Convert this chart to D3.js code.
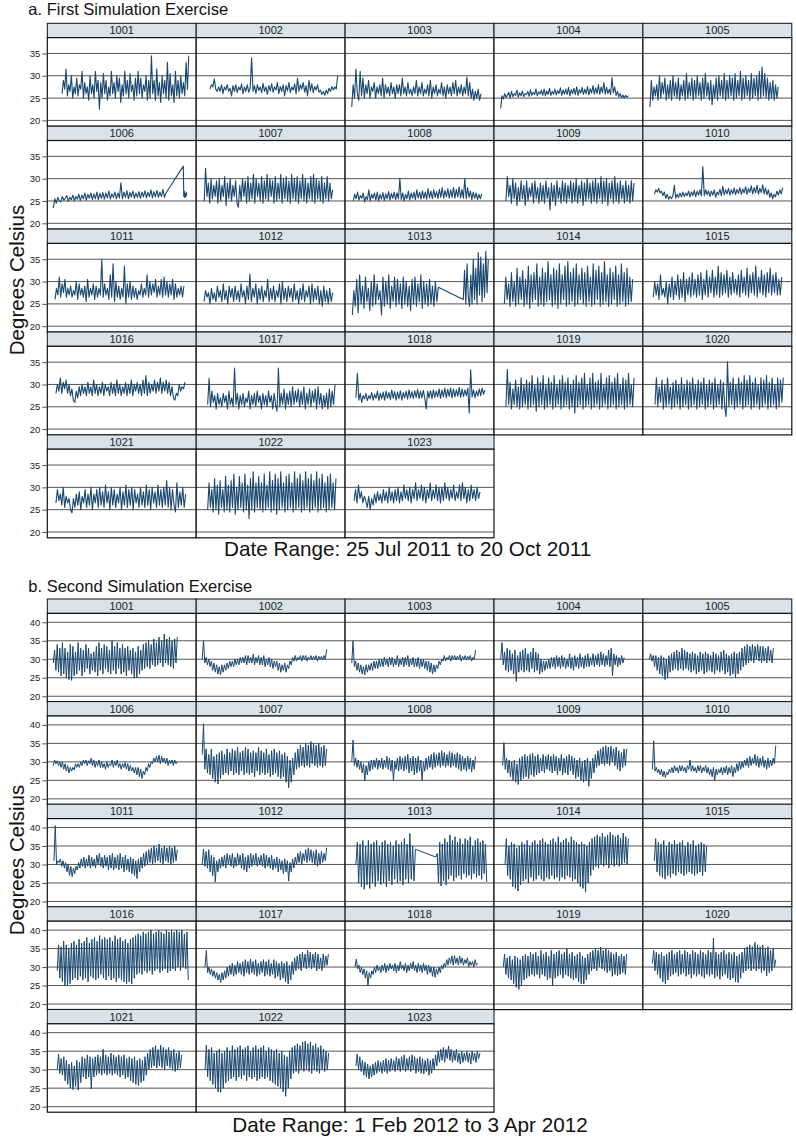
<!DOCTYPE html>
<html><head><meta charset="utf-8">
<script src="https://cdn.jsdelivr.net/npm/d3@7"></script>
<style>body{margin:0;background:#fff}svg{display:block}text{font-family:"Liberation Sans",Arial,sans-serif}</style>
</head><body><svg id="c" width="796" height="1141"></svg>
<script>
const facetIds=["1001","1002","1003","1004","1005","1006","1007","1008","1009","1010","1011","1012","1013","1014","1015","1016","1017","1018","1019","1020","1021","1022","1023"];
const yTicksA=[20,25,30,35];
const yTicksB=[20,25,30,35,40];
const titles=["a. First Simulation Exercise","b. Second Simulation Exercise"];
const dateLabels=["Date Range: 25 Jul 2011 to 20 Oct 2011","Date Range: 1 Feb 2012 to 3 Apr 2012"];
const yLabel="Degrees Celsius";

// time spans (days from first date) of each recorded segment
const spanA=[[[5.6,86.7]],[[5,86.7]],[[0.4,83.1]],[[0.4,82.1]],[[0.7,82.8]],[[0,72.1],[83.2,85.4]],[[1.3,83.5]],[[1.4,83.6]],[[3.8,85.8]],[[3.5,85.6]],[[1.1,83.6]],[[1.2,83.5]],[[0.8,55.8],[71.8,87.8]],[[2.8,84.9]],[[2.8,85]],[[1.7,84.3]],[[3.5,85]],[[3.1,85.7]],[[3.8,85.8]],[[3.9,86]],[[1.7,84.7]],[[3.5,85.6]],[[1.9,82.5]]];
const spanB=[[[0,56.7]],[[0,56.9]],[[0.3,56.9]],[[0.3,56.8]],[[0.2,56.9]],[[0,56.7]],[[0,56.9]],[[0.3,56.9]],[[1.2,57.9]],[[1.6,58]],[[0.3,56.7]],[[0,56.9]],[[2.2,29.4],[38.8,62]],[[2.3,58.7]],[[2.5,26.4]],[[1.8,61.7]],[[1.3,57.7]],[[1.8,57.9]],[[1.5,57.9]],[[1.6,58]],[[1.8,58.7]],[[1.3,57.8]],[[2.2,58.9]]];

// First exercise: temperature readings (°C)
const a1001=[[26,29,27,31.5,25.5,28,26.5,30,25,27.5,26,29.5,25.5,28,27,31,25,28.5,26,27.5,24.5,30,26,28,25,31,26.5,29,22.5,28.5,25,30.5,26,29,24.5,27.5,25.5,31,26,28.5,25,30,26.5,29.5,24,28,25.5,31,26,29,25,30.5,26.5,28,24.5,29.5,25.5,31,26,29.5,25,28,26.5,30,24.5,29,25,34.5,26,29,24.5,31.5,25.5,28.5,24,30,26,29,25,33,24.5,30.5,25.5,28,24,31,25.5,29,25,30,26,28.5,25.5,33,27,34.5]];
const a1002=[[27,28,27.5,29.3,27,26.5,27.5,26.5,28,26,27.5,26.8,28,26.5,27.2,25.5,27.8,26.5,28,26.2,27.5,26.8,28.2,26,27.5,26.5,28,26.3,27.2,34,26.5,27.8,26,28,26.7,27.5,26.2,28.3,26.5,27.5,25.8,27.8,26.6,28.2,26.3,27.5,26.8,28.5,26,27.6,26.5,28,25.5,27.8,26.6,28.5,26.2,27.5,26.8,28.2,26,29.5,26.5,28,27,28.5,26.3,27.8,25.5,29,26.6,28.2,26.2,27.6,26.8,28,26.3,26.8,25.8,26.5,25.6,26.8,26,27.2,26.5,27.6,26.8,27.5,27,30]];
const a1003=[[23,28,25,31.5,26,24.5,31,25.5,29.5,25,28,26,29,25,27.5,26.5,28.5,25,27.5,26,28,25.5,29.5,25,28,26,27.5,25.5,28.5,26,27.5,25,28,26,28,25.5,29.5,26,27.5,25.5,28.5,26,27,25.5,27.5,26,29,25.5,27.5,26,28.5,25.5,27,26,28,25.5,29,25,27.5,26,28,25.5,27,26,28.5,25.5,27.5,25,28,26,27.5,25.5,28.5,26,29,25.5,27.5,26,28,25.5,27.5,26,29.7,25.5,28.5,25,27,24.5,26.5,25,27,24.5,26]];
const a1004=[[22.7,25.5,24.8,26,25.2,25.6,26.3,25,26.5,25.3,26,25.6,26.8,25.2,26.2,25.5,26.6,25.3,26,25.8,26.5,25.4,26.8,25.6,26.3,25.8,27,25.5,26.4,25.9,26.8,25.6,27,25.5,26.6,25.8,27.2,25.6,26.5,25.9,27,25.7,26.7,26,27.3,25.6,26.8,25.9,27,25.8,27.4,25.5,26.9,26,27.2,25.8,27.5,25.6,26.9,26.1,27.4,25.8,27,26,27.6,25.7,27.1,26.1,27.8,25.9,27.3,26,28,25.8,27.5,26.2,28.5,25.9,27.4,26,27,25.8,29.6,26.2,27.5,25.6,26.5,25.3,26,25.1,25.7,25,25.6,25.2,25.5]];
const a1005=[[23,29,24.5,27.5,25.5,28,24.5,30,25,28.5,26,29.5,24.5,28,25,29,24.5,30,25.5,28.5,25,29.5,24.5,28,25.5,29,24.5,30.5,25,28.5,25.5,29.5,24.5,29,25,30,25.5,28.5,24.5,29.5,25,30.5,25.5,28.5,24.5,29,23.5,28,25,29.5,24.5,30,25.5,29,25,30.5,24.5,29,25,30,25.5,29.5,24.5,30.5,25,29,25.5,31,24.5,29.5,25,30,25.5,29,24.5,30.5,25,29.5,25.5,30,24.5,31,25,32,25.5,30.5,25,29.5,24.5,28.5,25,29,24.5,28,25,27.5]];
const a1006=[[23.4,25.5,24.5,25.8,25,24.8,26,25.2,25.6,26.2,24.9,25.8,25.3,26.3,25,26,25.4,26.5,25.1,26.3,25.5,26.8,25.2,26.5,25.6,26.8,25.3,26.6,25.5,27,25.3,26.7,25.6,26.9,25.4,26.8,25.7,27.2,25.4,26.6,25.8,27,25.5,26.8,25.7,29.1,25.5,27,25.8,27.3,25.5,26.9,25.9,27.2,25.6,26.8,25.8,27.1,25.6,27,25.9,27.3,25.7,27,26,27.5,25.7,27.1,25.9,27.4,25.8,27,26,27.6,25.8,26.8],[32.8,26,27.2,25.8,26.6,25.9,27,26.2]];
const a1007=[[25,32.3,26,29,24.5,30,25.5,28.5,26,29.5,24.5,30,25,28.5,26,30.5,24,29,25.5,30,25,28.5,26,29.5,24.5,23.6,28.5,25,30,26,29.5,24.5,30.5,25,29,25.5,31,24.5,30,26,29,25,30.5,24.5,29.5,25.5,31,25,30,26,29.5,24.5,30.5,25,29,25.5,31,24.5,30,25.5,30.5,25,29.5,24.5,31,25.5,30,25,30.5,24.5,29.5,25.5,31,25,30,24.5,29,25.5,30.5,25,31,24.5,30,25.5,29.5,25,30.5,24.5,29,25.5,30.5,25,29,25.5,27.5]];
const a1008=[[25,26.5,25.5,27,25.2,26.2,25.6,26.8,24.8,26,25.3,27.5,25,26.5,25.6,26.8,25.2,27,25,26.5,25.4,26.9,25.1,26.6,25.5,27.1,25.2,26.7,25.6,27,25.3,26.8,25.5,30,25.3,26.8,25,26.5,25.5,27.2,25.2,26.8,25.6,27,25.3,27.5,25.7,27,25.4,27.3,25.6,27,25.4,27.8,25.7,27.2,25.5,27.5,25.8,27.1,25.5,27.6,25.8,28,25.6,27.4,25.9,27.8,25.6,27.5,25.8,28,25.6,27.6,25.9,28.2,25.7,27.6,25.6,30,25.5,28,25.8,27.2,25.3,27,25.6,26.8,25.3,26.5,25.5,26.6]];
const a1009=[[25,30.5,26,28.5,24.5,30,25.5,29,24,28,25,29.5,25.5,28.5,24,29.5,25,28,26,29,24.5,29.5,25.5,28,24.5,29,25,28.5,24.5,29.5,25.5,28,23,29,25,28.5,24,29.5,25.5,28,24.5,29.5,25,29,24.5,28.5,25.5,29.5,24.5,29,25,30,24.5,28.5,25.5,29.5,24,29,25,30,25.5,29,24.5,29.5,25,30,24.5,29,25.5,30.5,24.5,29.5,25,30,24,29,25.5,29.5,24.5,30.5,25,29,24.5,29.5,25.5,28.5,24.5,29.5,25,28.5,24.5,29.5,25,29]];
const a1010=[[26.5,27.5,27,27.8,26.8,27.2,26.2,27,25.6,26.5,25.4,26,25.5,26.2,28.5,25.6,26.5,25.8,26.8,25.9,27,26,26.8,26.2,27.2,25.9,27,26.2,27.4,26,27.2,26.3,27.5,26.1,32.7,26.2,27.5,26.4,27.3,26,27.2,26.3,27.5,25.8,27,26.4,27.6,26.2,28.3,26.4,27.5,26.6,27.8,26.3,27.5,26.6,27.9,26.4,27.6,26.7,28,26.5,27.7,26.8,28.2,26.5,27.8,26.9,28.4,26.6,28,26.8,28.5,26.5,27.8,26.9,28.6,26.6,27.9,26.4,27.5,25.8,26.8,25.5,26.5,25.9,27.2,26.3,27.5,26.6,28]];
const a1011=[[26,28.5,27,31,26.5,29.5,27.5,30.5,26.5,28.5,27,29,26.5,28,27,30,26,29.5,27,28.5,26.5,29,25.5,30.5,26.5,28.5,27,29.5,26,29,26.5,28.5,27,35,26.5,29.5,27,28.5,26,31.5,26.5,34,25.5,30,26.5,29,26,28.5,26.5,33.5,25,29.5,26.5,30,26,29,26.5,28.5,26,28,27,29.5,26.5,28.5,27,31.5,26.5,30,27,29.5,27.5,30.5,26.5,29,27,30.5,26.5,31,27,30,26.5,29.5,27,30.5,26,29.5,26.5,28.5,27,29,26.5,29]];
const a1012=[[25.5,28,26.5,27.5,25,28.5,26,27.5,25.5,29,26.5,28,25.5,29.5,26,28,25,29,26.5,28.5,25.5,29,26,28,25.5,29.5,26.5,28,25,29,26,31.7,25.5,28.5,26.5,29.5,25,28.5,26,29,25.5,28,26.5,30.5,25.5,28.5,26,29,25.5,28,26.5,29.5,25,30,26,28.5,25.5,29,26.5,28.5,25.5,29.5,26,28,25,28.5,26,29.5,25.5,28,26.5,29,25,29.5,25.5,28.5,26,29,25,28,24.5,29,25.5,28,25,28.5,25.5,27.5]];
const a1013=[[22.5,28,24.5,30.5,23,31.5,25,29,24,31,25.5,28.5,23.5,30,24.5,31.5,25,29.5,26,28,22.5,31,24.5,30,25,31.5,24,29,25.5,31,24.5,30.5,25,29.5,24,31,25,30,24.5,29,23.5,30.5,25,31,24.5,29.5,25.5,31.5,24,30,25,29.5,24.5,30.5,25,29,24.5,30,25.5,28.7],[26,32.5,25,34,26.5,24.5,31.5,25,35,26,33,25,36.5,27,35.5,25.5,34,26.5,36.8,27.5,35]];
const a1014=[[25,31,26,29.5,24.5,32,25.5,30,24.5,33,25,31,26,32.5,24.5,30.5,25,33.5,24,31.5,25.5,32,26,34,24.5,31,25,33,24.5,32,25.5,34.5,26,31.5,24.5,33,25,32.5,24,34,25,31.5,26,33.5,24.5,34.5,25,32,25.5,33,24.5,34,25,31.5,26,33,25,32,24.5,33.5,25.5,31,24.5,34,25,32.5,26,33.5,24.5,32,25,34.5,25.5,31.5,24.5,33,25,32,26,33.5,24.5,31.5,25,34,25.5,32,24.5,33,25,31,25.5,30.5]];
const a1015=[[26.5,30,27,29.5,26,31.5,27,28.5,26.5,30,25,29.5,26.5,31,26,30,27,31.5,26,30.5,26.5,32,25.5,30.5,27,31,26.5,32,27,30.5,26.5,31.5,27,32,26,30.5,27,32.5,26.5,31,27.5,32.5,26.5,31,27,33.5,26.5,32,27,31.5,27.5,32.5,26.5,31,27,32,27.5,30.5,27,31.5,26.5,32.5,27.5,31,27,33,26.5,31.5,27.5,32,27,33.5,26.5,31,27.5,32.5,27,31.5,26.5,32,27.5,33,27,31.5,27.5,32,27,30.5,27,31]];
const a1016=[[28,30,28.5,31.5,28,30.5,29,31,28,30,27.5,29,26.5,26,28.5,27,29.5,27.5,30,28,29.5,27.5,30.5,28,29.5,27.5,31,28,30,27.5,29.5,28,30.5,27.5,30,28.5,29.5,27.5,30.5,28,30,27.5,31,28,30,27.5,29.5,28,30.5,27.5,30,28,31,27.5,30,28.5,30.5,28,30,27.5,31,28,32,27.5,30.5,28,30,28.5,31,28,30.5,28.5,31.5,28,30.5,28.5,31,28,30.5,27.5,29.5,27,26.5,28,27.5,30,28.5,29.5,29,30.5]];
const a1017=[[25.5,31.4,25,28.5,26,27.5,24.5,28,25.5,27,25,28,26,27.5,24.5,28.5,25.5,27,25,33.7,25.5,28,24.5,27.5,25.5,28,25,27,26,28.5,24.5,27.5,25.5,28,25,28.5,26,27.5,24.5,28,25.5,27.5,25,28.5,26,27.5,24.5,28,25.5,24,33.7,25,28,25.5,29,24.5,28,25.5,28.5,25,29.5,25.5,28.5,26,29,25,28.5,25.5,29.5,24.5,28,25.5,29,25,28.5,26,29,24.5,29.5,25.5,28,24.5,27.5,25,28,24.5,29,25,28.5,25.5,30]];
const a1018=[[27,32.5,26.5,28,26,27.5,26.8,28,26.4,27.5,26.8,28.2,26.5,27.8,26.9,28.5,26.4,28,26.8,28.3,26.5,28.5,26.9,28.2,26.6,28.8,26.9,28.4,26.5,28.3,26.8,28.6,26.5,28.2,27,28.5,26.7,28.8,27,28.4,26.8,28.6,27.1,28.9,26.8,28.5,27,28.7,26.9,24.5,28.5,27,28.6,26.8,28.8,27.1,28.5,27.2,29,26.9,28.8,27.2,29.2,27,28.9,27.3,29.2,27,29,27.2,28.8,27.4,29.3,27.1,29,27.3,28.8,27.5,29.2,23.6,33.3,27.2,28.8,27,28.5,27.4,29,27.5,29.2,27.8,28.8]];
const a1019=[[25,33.4,25.5,30.5,24.5,29,25.5,31,25,29.5,24.5,31.5,25,30,25.5,31,24.5,30.5,25,32,25.5,30,24,31.5,25,30.5,25.5,32,24.5,30,25,31.5,25.5,30.5,24.5,32,25,30,25.5,31,24.5,32,25,30.5,25.5,31.5,24.5,30,25,31,23.6,32,25,30.5,25.5,31.5,24.5,32.5,25,30,25.5,31.5,24.5,32.5,25,30.5,25.5,31,24.5,32.5,25,30,25.5,31.5,24.5,32,25,30.5,25.5,31.5,24.5,32.5,25,30,25.5,31.5,24.5,31,25,32.5,25.5,30,25,31.5]];
const a1020=[[25.5,31.5,25,29.5,26,31,24.5,30,25,31.5,25.5,29.5,24.5,30.5,25,31,25.5,30,24.5,31.5,25,30,25.5,31,24.5,30.5,25,31.5,25.5,30,24.5,31,25,30.5,25.5,31.5,24.5,30,25,31,25.5,30.5,24.5,31.5,25,30,25.5,31,24.5,30.5,25,22.8,35.1,25,30.5,25.5,31.5,24.5,30,25,31.5,25.5,30.5,24.5,32,25,31,25.5,32,24.5,30.5,25,31.5,25.5,30,24.5,31.5,25,31,25.5,32,24.5,30.5,25,31.5,25.5,30,24.5,31.5,25,31,26,31.5]];
const a1021=[[26.5,29.5,27,28.5,26,30,25.5,28,26.5,27.5,25,24.3,27.5,25.5,28.5,26,29,25,28,26.5,29.5,25.5,28.5,26,30,25,28.5,26.5,29.5,25.5,30,26,29,25.5,30.5,26.5,29,25,30,26,29.5,25.5,28.5,26.5,30,25,29,26,30.5,25.5,29.5,26,30,25,29.5,26.5,28.5,25.5,30,26,29,25.5,30.5,26,29.5,25,30,26.5,29,25.5,30.5,26,29.5,25.5,30,26,31.5,25.5,30,25,29.5,26,24.5,31,25.5,29,26,30,25.5,28.5]];
const a1022=[[25,31,25.5,29.5,24.5,32,25,30.5,24,31.5,25.5,29.5,24.5,32.5,25,30.5,24.5,31.5,25.5,33,24,30,25,32.5,25.5,31,24.5,33,25,30.5,23,32,25,33.5,24.5,31,25.5,32.5,25,31,24.5,33,25,30.5,25.5,33.5,24.5,31.5,25,33,24,32,25,33.5,25.5,31,24.5,32.5,25,33,25.5,31,24.5,33.5,25,32,25.5,33,24.5,31.5,25,33.5,25.5,32,24.5,33,25,31.5,25.5,33.5,24.5,32,25,33,25.5,31,24.5,32.5,25,33,25.5,31,25,32]];
const a1023=[[27,29.5,26.5,30.5,27.5,29,26.5,28,27,25.5,28,25,27.5,26,28.5,26.5,29,27,28.5,26.5,29.5,27,29,26.5,30,27,29,26.5,29.5,27,30,26.5,29,27,30.5,27.5,29.5,27,30,26.5,29.5,27.5,31,27,29.5,27.5,30.5,27,30,26.5,29.5,27.5,31,27,29.5,27.5,30.5,27,30,26.5,30,27,31,27.5,30,27,29.5,27.5,30.5,27,29,27.5,30.5,27,31,27.5,30,26.5,29.5,27,30.5,27.5,29.5,27,30,27.5,29]];

// Second exercise: temperature readings (°C), daily low/high
const b1001=[[29,32.5,27,34,26.5,33,25.5,34.5,26,33,25,32,24.5,34,24.3,33.5,25.5,32,26,34.5,27,33,25.5,32.5,26.5,34,27.5,33,26,31.5,27,32,26.5,33.5,25.5,34.5,27,33,26,34,27.5,33.5,26.5,32.5,26,35,27,33.5,26,34.5,27.5,33,26,34,26.5,33,25.5,33.5,27,32.5,26,33,25,32,25,33.5,26,32.5,27,34,27.5,34.5,28,35,27.5,34,28.5,35.5,28,34.5,28.5,36,29,35,28,36.8,29,35.5,28.5,36,28,35,27.5,35.5,29,36]];
const b1002=[[30,35,29,30.5,28.5,30,28,29.5,27,29,26.5,28.5,26,28,25.8,28.5,26.5,28.5,27,29,27.5,29.5,28,29.5,28,30,28.5,30,28.5,30.5,29,30.5,29,31,28.5,31,29,30.5,29,31.4,28.5,30.5,29,31,28.5,30.5,28.5,31,28,30,28.5,30.5,28,30,27.5,29.5,28,29.5,27,29,26.5,28.5,27,29,26.5,28.5,27.5,29.5,28.5,30.5,29.5,31,29.5,30.5,30,31,29.5,31,30,31,29.5,30.5,30,31,29.8,30.8,30,31,29.5,30.8,30,30.8,29.8,31,30,32.7]];
const b1003=[[29,35,28,29.5,27,29,26.5,28.5,26,28,25.8,28.5,26.5,28.5,27,29,27,29.5,27.5,29.5,27.5,30,28,30,28,30.5,28.5,30,28,30.5,28.5,30.5,28,30,28.5,31,28,30,28.5,30.5,28,30.5,28.5,31,28,30,28.5,30.5,28,30,28,30.5,27.5,30,28,30,27.5,29.5,27,29.5,26.5,29,26,28.5,26.5,28.5,27.5,29.5,28.5,30,29.5,31,29.5,30.5,30,31,29.5,31,30,31,29.8,30.8,30,31.2,29.5,30.8,30,31,29.8,30.8,30,31,29.5,30.5,30,32.5]];
const b1004=[[30,34.5,28.5,32,27,33,26.5,32.5,27,31.5,26,32.5,24,31,26.5,32,27,32.5,26.5,33,27,31.5,26.5,32,27.5,33,26.5,32,27,31.5,26,30,26.5,29.5,27,29.5,27.5,30,27.5,30.5,28,30.5,27.5,31,28,30.5,27.5,31,28,30.5,27.5,30,28,31.5,27.5,30.5,27,31,28,30.5,27.5,31.5,28,30.5,27.5,31,28,31.5,28,30.5,28.5,31.5,28,31,28.5,31.5,28,32,28.5,31.5,28,31,28.5,32.5,28,33,25.5,31.5,28.5,31,28,30.5,28.5,31,29,30.5]];
const b1005=[[30,31.5,29.5,31,28,31,27,30.5,26,31,25.5,30.5,24.5,30,25,31,26.5,31.5,27,32,27.5,32.5,27,32,27.5,33,27,32.5,27.5,32,27,31.5,26.5,32,27,31.5,26,31,26.5,32,27,31.5,26,32,26.5,31.5,27,31,26.5,32,26,31.5,27,31,26.5,32,27,32.5,26,31.5,26.5,31,25.5,31.5,26,32,25,31.5,26,32,27,33,28,33.5,28.5,34,29,33.5,29.5,34,29,33.5,30,34,29.5,33.5,29,33.5,29.5,33,29,33.5,29.5,32.5,29,33]];
const b1006=[[29,30.5,29.5,30.3,29,30,28.5,30,28,29.5,27.5,29,27,28.5,27.5,28.5,27.8,29.5,28.5,29.5,28.5,30,29,30.5,29.5,30.5,29,30.3,29.5,31,29,30.5,28.5,30,29,30.5,28.5,30,28.5,29.5,28,30,28.5,29.5,29,30.5,28.5,30,29,30.5,28.5,29.5,28,29.5,28.5,29.8,28,29.5,27.5,29,27.5,28.5,27,28.5,26.5,28.5,26,28,25.5,27.5,26.5,28.5,27.5,29.5,28.5,30,29.5,31,30,31.5,30,31.8,29.5,31.5,30,31,29.5,31,29,30.5,29.5,30.5,29,30.5,29.5,30]];
const b1007=[[32,40.3,28,33.5,27,32,26.5,33.5,25.5,31.5,24.5,32,24,32.5,25.5,33,26.5,32,27,33.5,26.5,32.5,27.5,33.5,26.5,33,27,34,26.5,32.5,27.5,33,26.5,34,27,33.5,26.5,32.5,27,33,26,32.5,27.5,34,26.5,33,27,32.5,26.5,33.5,27,32,26,33,26.5,33.5,27,32.5,26,33,25.5,32,26,32.5,24.5,31.5,23,30.5,24.5,31,26.5,32.5,28,33.5,28.5,34.5,29,34,28.5,35,29,34.5,28.5,35.5,29.5,35,29,34.5,28.5,35,29,34,28.5,34.5,29,33.5]];
const b1008=[[30,35.9,29,31,28.5,30.5,28,30,27,29.5,25,29,26.5,30,27.5,30.5,28,30.5,28.5,31,28,30.5,28.5,31,28,30.5,28.5,31.5,28,31,27.5,30.5,25,30,28,31,27.5,31.5,28,31,27.5,31.5,28,32,27,31,27.5,31.5,26.5,31,27,31.5,27.5,30.5,25,30,27.5,31,28,31.5,28.5,32,28,32.5,28.5,32,29,32.5,28.5,33,29,32.5,28.5,32,29,32.8,28.5,32.5,29,32,28.5,32.5,28,32,27.5,31.5,28,31,27.5,31.5,28,31,27.3,30.5,28,31.5]];
const b1009=[[29,35.2,28,31,27,30.5,26,30,25,30.5,24.5,29.5,23.9,31,25,31.5,25.5,32,26,31.5,25.5,32,26.5,32.3,26,31.5,26.5,32,27,31,27.5,32,27,31.5,28,32,27.5,31.5,27,32,27.5,31.5,26.5,31,27.5,32,26.5,31,27,31.5,26.5,32,27.5,31.5,26.5,31,25.5,30.5,26,31,25,30,24.5,30.5,25,31,23.4,30,25.5,31,27,32,28.5,33,29,33.5,29.5,34,29,34.4,29.5,34,29,34.2,30,33.5,29,34,28,33,27.5,32.5,28.5,33.5,29,33.5]];
const b1010=[[28,35.7,27.5,28.5,27,28,26.5,28,26,27.5,25.8,27.2,26.5,28,27,28.5,27,29,27.5,28.5,27,29,27.5,29,27.5,28.5,27,29,28,30.5,27.5,29,27.5,28.5,27,29,27.5,29,27,28.5,27.5,29,27,28.5,26.5,28,26,28.5,25,28,26.5,28,27,28.5,26.5,28.5,27,29,26.5,28.5,27,29,26,28.5,27,29.5,27.5,30,28,30,28.5,30.5,29,31,28.5,31.5,29,31,29.5,32,29,31.5,28.5,31,29,31.5,28.5,30.5,28,31,28.5,30.5,29,31,29.5,34.4]];
const b1011=[[31,40.5,30,31,30.5,31.5,29.5,31,29,30.5,28,30,27,29.5,26.7,29,27.5,29.5,28.5,30.5,29,31.5,29.5,32,29,31.5,29.5,32.5,29,32,29.5,31.5,29,32.5,30,33,29.5,32,29,32.5,29.5,32,28.5,32.5,29,33,28.5,32,29,32.5,28.5,33,29,32,28,32.5,28.5,31.5,28,32,27.5,31.5,27,31,26.2,31.5,28,32,29,33,29.5,33.5,30,34,30.5,34.5,30,35,30.5,34.5,31,35.5,30.5,34.5,30,35,31,34.5,30.5,35,30,34.5,30.5,35,31,34]];
const b1012=[[30,34.2,29.5,33.5,29,34,28,32.5,27,32,25.3,31,28,31.5,29,32,29.5,32.5,29,33,30,32.5,29.5,33,29,32,29.5,33,30,32.5,29,33,28.5,32,28,32.5,29,33,29.5,32.5,30,33,29.5,32,30,32.5,29.5,33,29,32.5,29.5,32,29,32.5,28.5,31.5,29,32,28,31.5,28.5,31,27.5,31.5,28,31,25.5,30.5,28,31.5,29,32,30,33,30.5,33.5,30,33,31,34,30.5,34.5,31,34,30.5,33.5,30,34,29.5,33,30,33.5,30.5,33,31,34.5]];
const b1013=[[30,36,25,35.5,24,36.5,23.3,35,24.5,36.5,23.5,35.5,25,36,24,36.5,25.5,35,24.5,36,25,36.5,24,35.5,25.5,36,24.5,35,26,36.5,25,35.5,25.5,36,24.5,37,26,35.5,25,38.4,26,35,25.5,34.1],[32,33,25,36,24.2,35.5,25.5,37,24.5,36,26,38,27,36.5,25.5,37.5,26.5,36,27,37,26,35.5,27.5,37,26.5,36.5,27,37.5,26,35,27.5,36.5,26.5,37,27,36,26,36.5,27.5,35.5,25.3]];
const b1014=[[30,37,27,35,26,36,24,35.5,23.5,34.5,22.8,35,24.5,36,25.5,35.5,26,36.5,25,35,26.5,36,25.5,36.5,26,35.5,27,36.5,26,37,25.5,36,26.5,35.5,26,36.5,27,37,26,36,26.5,37.5,25.5,36,26.5,36.5,26,37,27,36,26.5,37.5,25.5,36.5,26,36,25,35.5,24,36,23.5,35.5,22.5,35,25,36,27,37,28.5,37.5,29.5,38,29,37.5,30,38.5,29.5,37.5,30,38,29,38.7,30,38,29.5,37.5,30,38,29.5,37,30,38.5,30.5,37.5,30,37]];
const b1015=[[31,37,28,36,27,35.5,26.5,36.5,26,35,27,36,26.5,35.5,27.5,36.5,27,35.5,28,36,27.5,36.5,27,35,27.5,36,28,35.5,27.5,36.5,27,35,27.5,35.5,28,36,27,35.5,28,35]];
const b1016=[[29,36,27,35.5,26,37,25,36,24.9,35,25.5,36.5,26.5,37,27,36,26.5,37.5,27.5,36.5,26.5,37,27,38,26,36.5,27.5,37.5,27,38,26.5,37,27,38.5,28,37.5,27,38,26.5,37.5,27.5,38,26.5,37,27,38.5,26,37.5,27,38,26.5,37,26,37.5,25.5,36.5,26,37.5,25.4,38,27,38.5,28,39,28.5,38.5,28,39.5,29,39,28.5,39.5,29,40,28,39,29,39.5,29.5,40,28.5,39.5,29,39,29.5,40,28.5,39.5,29,40,29.5,39.5,29,40,30,39.5,29,40,30,39,29.5,39.5,26.5]];
const b1017=[[30,34.5,28.5,30,28,29.5,27.5,29,27,28.5,26.5,28,25.8,28.5,26.5,29,27,30,27.5,30.5,28,31,27.5,30.5,28,31.5,28.5,31,28,31.5,27.5,32,28.5,31.5,28,32.2,28.5,31.5,28,32,27.5,31,28,31.5,28.5,32,27.5,31.5,28,32,27.5,31,28,32,27,31.5,27.5,31,26.5,31.5,27,31,26,31.5,25.4,30.5,26.5,31.5,28,32.5,29,33,29.5,33.5,29,34,30,33.5,29.5,34.5,30,34,29.5,33.5,30,34,29,33.5,29.5,32.5,29,33.5,30,33,30.5,33.5]];
const b1018=[[30,32.2,29.5,30.5,28.5,30,28,29.5,27,29,25,28.5,27,29,28,30,28.5,30.5,29,30,28.5,30.5,29,31,28.5,30.5,29,31,29.5,30.5,29,31,28.5,30.5,29,31.5,29.5,30.5,29,31,28.5,30.5,29,31,29.5,31.5,29,30.5,28.5,31,29,30.5,28.5,31,29,30.5,28,30.5,28.5,30,27.5,30,27.2,29.5,28,30,28.5,30.5,29.5,31,30,32,30.5,32.5,31,33,30.5,33.1,31,32.5,30.5,33,31,32.5,30.5,32,31,32.5,30,31.5,30.5,31.5,30,32,30.5,31]];
const b1019=[[30,33.5,28,32.5,27,33,26.5,32,25.5,33,24.5,32.5,24,32,25,33,26.5,33.5,27,33,27.5,34,28,33.5,27.5,34,28,33,27,34.5,28,33.5,27.5,34,26.5,33,27,34.5,25,33.5,27,34,27.5,34.5,28,33.5,27,34,28,34.9,27.5,33.5,27,34,26.5,33,27,33.5,26,34,25.5,33,25.4,32.5,26.5,33.5,28,34,29,34.5,29.5,35,29,34.5,30,35.4,29.5,34.5,29,35,28.5,34.5,29,34,27.5,33.5,28,34,27.6,33,28,33.5,28.5,33,28,33.5]];
const b1020=[[31,34.5,29,34,28,33.5,27,34,26,33,25.4,33.5,26.5,34,27.5,34.5,28,33.5,28.5,34,27.5,34.5,28,33.5,28.5,34.5,27.5,34,28,33.5,27,34.5,28,34,27.5,33.5,28,34.5,27.5,34,27,33.5,28,34.5,27.5,34,28,37.8,27,34,27.5,33.5,26.7,34,27.5,34.5,28,33.5,27,34,26.5,33.5,27,34,26,33,25.8,33.5,27,34,28.5,35,29,35.5,29.5,36,29,35.5,29.5,36.7,29,36,29.5,35.5,28.5,36,29,35,27.6,35.5,28.5,34.5,29,35,30,32]];
const b1021=[[30,34.2,29,33,28.5,33.5,27,32.5,26,31.5,25,32,24.6,31,25.5,32.5,24.5,32,26.5,33.5,28,33,27.5,34,28,33.5,24.8,33,28,33.5,28.5,34,29,33.5,28.5,35.5,29,34,28.5,33.5,29,34.5,28.5,34,29,33.5,28.5,34,28,33.5,28.5,34,27.5,33,28,33.5,27,33,26.5,33.5,26,32.5,25.7,33,26.5,32.5,27,33.5,28.5,34.5,30,35.5,30.5,36,31,36.5,30.5,35.5,31,36.6,30.5,36,30,35.5,31,36,30.5,35,30,35.5,29.5,34.5,30,35,30.5,34]];
const b1022=[[30,36.6,28,35.5,27,36,26,34.5,25,35,24,35.5,23.9,34.5,25,35,26.5,36,27,35,27.5,36.5,28,35.5,27,36,28,36.5,27.5,35.5,28.5,36,27,36.5,28,35,27.5,36,28,36.5,27,35.5,27.5,36,28,36.5,27.5,35,28,36,27,35.5,26.5,35,26,35.5,25.5,34.5,25,35,24,34,22.8,33.5,25,35,27.5,36,29,36.5,29.5,37,29,36.5,30,37.5,29.5,37.7,30,37,29.5,37.5,29,36.5,30,37,29.5,36,29,36.5,30,35.5,29.5,35,30,34.5]];
const b1023=[[31,34.2,30,33.5,29.5,32.5,28.5,32,28,31.5,27.5,31,28,31.5,28.5,32,29,32.5,29.5,32,29,32.5,29.5,33,29,32.5,29.5,33,30,32.5,29.5,33.5,30,33,29.5,33.5,30,34,29.5,33,30,33.5,29.5,34,30,33.5,29,33,29.5,33.5,29,33,28.8,32.5,29.5,33,28.5,32.5,29,33,30,34,31,35,32,35.5,32.5,36,32,35.5,33,36.4,32.5,35.5,32,35,32.5,35.5,32,34.5,31.5,35,32,34.5,32.5,35,32,34.5,31.5,35,32.5,34.5,32,35,33,34.5]];

const seriesA=[a1001,a1002,a1003,a1004,a1005,a1006,a1007,a1008,a1009,a1010,a1011,a1012,a1013,a1014,a1015,a1016,a1017,a1018,a1019,a1020,a1021,a1022,a1023];
const seriesB=[b1001,b1002,b1003,b1004,b1005,b1006,b1007,b1008,b1009,b1010,b1011,b1012,b1013,b1014,b1015,b1016,b1017,b1018,b1019,b1020,b1021,b1022,b1023];

const svg=d3.select("#c");
const C={line:"#1a476f",strip:"#d9e3e9",border:"#111",grid:"#555",text:"#222"};
const colX0=47.3, colW=148.9, ncol=5;

function drawPanel(cfg){
  const g=svg.append("g");
  g.append("text").attr("x",28.3).attr("y",cfg.titleY).attr("font-size",16.5).attr("fill","#111").text(cfg.title);
  const y=d3.scaleLinear().domain(cfg.yDom).range([cfg.plotH,0]);
  const x=d3.scaleLinear().domain(cfg.xDom).range(cfg.xRange);
  facetIds.forEach((id,i)=>{
    const r=Math.floor(i/ncol), c=i%ncol;
    const fx=colX0+c*colW, sy=cfg.top+r*cfg.pitch, py=sy+cfg.stripH;
    const f=g.append("g");
    f.append("rect").attr("x",fx).attr("y",sy).attr("width",colW).attr("height",cfg.stripH).attr("fill",C.strip).attr("stroke",C.border).attr("stroke-width",1);
    f.append("text").attr("x",fx+colW/2).attr("y",sy+cfg.stripH/2+4).attr("text-anchor","middle").attr("font-size",11).attr("fill",C.text).text(id);
    const p=f.append("g").attr("transform",`translate(${fx},${py})`);
    p.append("rect").attr("width",colW).attr("height",cfg.plotH).attr("fill","#fff");
    p.selectAll("line.g").data(cfg.ticks).join("line").attr("class","g").attr("x1",0).attr("x2",colW).attr("y1",d=>y(d)).attr("y2",d=>y(d)).attr("stroke",C.grid).attr("stroke-width",1);
    const pts=[];
    cfg.series[i].forEach((seg,k)=>{
      const [s,e]=cfg.spans[i][k], n=seg.length;
      seg.forEach((v,j)=>pts.push([n>1?s+(e-s)*j/(n-1):s,v]));
    });
    p.append("path").attr("d",d3.line().x(d=>x(d[0])).y(d=>y(d[1]))(pts)).attr("fill","none").attr("stroke",C.line).attr("stroke-width",cfg.lw).attr("stroke-linejoin","round");
    p.append("rect").attr("width",colW).attr("height",cfg.plotH).attr("fill","none").attr("stroke",C.border).attr("stroke-width",1.2);
    if(c===0){
      const ax=d3.axisLeft(y).tickValues(cfg.ticks).tickSize(5).tickPadding(2);
      const a=p.append("g").call(ax);
      a.select(".domain").remove();
      a.selectAll("line").attr("stroke",C.grid);
      a.selectAll("text").attr("font-size",9.5).attr("fill",C.text).attr("font-family","Liberation Sans, Arial, sans-serif");
    }
  });
  g.append("text").attr("transform",`translate(${cfg.ylabX},${cfg.ylabY}) rotate(-90)`).attr("text-anchor","middle").attr("font-size",20.5).attr("fill","#111").text(yLabel);
  g.append("text").attr("x",cfg.dateX).attr("y",cfg.dateY).attr("font-size",20.7).attr("fill","#111").text(cfg.date);
}

drawPanel({title:titles[0],titleY:15,top:23.3,pitch:102.9,stripH:14.3,plotH:88.6,yDom:[18.7,38.55],ticks:yTicksA,xDom:[0,88],xRange:[6,143.5],series:seriesA,spans:spanA,lw:1.1,ylabX:24,ylabY:280,date:dateLabels[0],dateX:224,dateY:556});
drawPanel({title:titles[1],titleY:592,top:599,pitch:102.6,stripH:14.4,plotH:88.4,yDom:[18.5,42.4],ticks:yTicksB,xDom:[0,62],xRange:[6,141.6],series:seriesB,spans:spanB,lw:1,ylabX:24,ylabY:860,date:dateLabels[1],dateX:232.3,dateY:1132});
</script></body></html>
